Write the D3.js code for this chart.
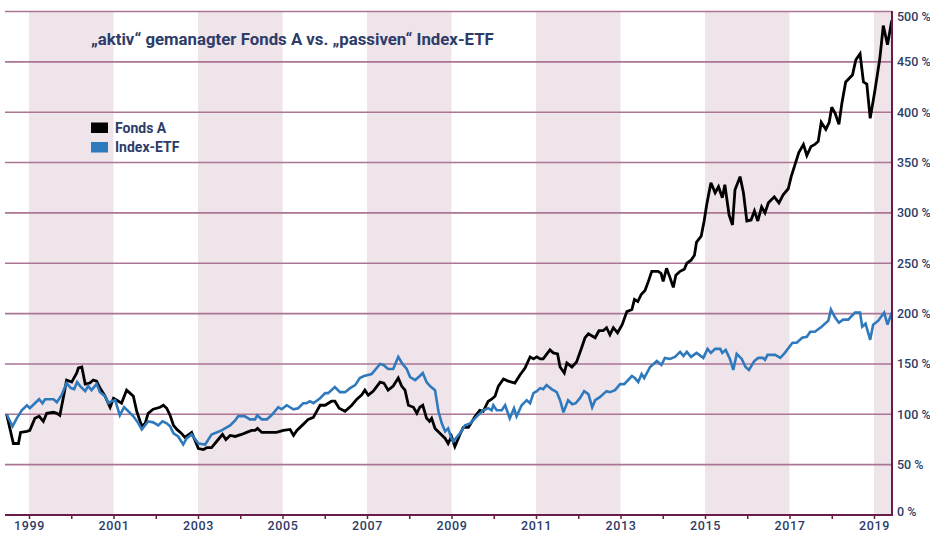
<!DOCTYPE html>
<html>
<head>
<meta charset="utf-8">
<script src="https://cdn.jsdelivr.net/npm/d3@7"></script>
<style>
  html, body { margin: 0; padding: 0; background: #ffffff; }
  svg { display: block; }
  text { font-family: Roboto, "Noto Sans", sans-serif; }
</style>
</head>
<body>
<svg id="chart" width="930" height="533"></svg>
<script>
// ---------- data ----------
const titleText = "\u201Eaktiv\u201C gemanagter Fonds A vs. \u201Epassiven\u201C Index-ETF";
const seriesNames = ["Fonds A", "Index-ETF"];
const seriesColors = ["#000000", "#2f79bd"];

const fondsDates = [1998.47,1998.63,1998.75,1998.80,1998.95,1999.02,1999.14,1999.24,1999.34,1999.42,1999.58,1999.66,1999.73,1999.81,1999.89,2000.01,2000.13,2000.17,2000.25,2000.33,2000.44,2000.52,2000.60,2000.68,2000.80,2000.92,2001.00,2001.08,2001.19,2001.31,2001.39,2001.47,2001.55,2001.67,2001.75,2001.82,2001.94,2002.02,2002.10,2002.18,2002.26,2002.34,2002.42,2002.50,2002.61,2002.69,2002.85,2003.01,2003.13,2003.21,2003.32,2003.44,2003.58,2003.66,2003.76,2003.88,2004.03,2004.15,2004.27,2004.35,2004.41,2004.51,2004.86,2005.02,2005.18,2005.26,2005.34,2005.49,2005.61,2005.73,2005.89,2006.01,2006.16,2006.24,2006.34,2006.48,2006.64,2006.76,2006.87,2006.95,2007.03,2007.15,2007.31,2007.40,2007.50,2007.62,2007.74,2007.82,2007.90,2007.98,2008.10,2008.18,2008.25,2008.32,2008.41,2008.48,2008.53,2008.61,2008.73,2008.85,2008.92,2009.00,2009.08,2009.20,2009.28,2009.40,2009.56,2009.67,2009.75,2009.87,2009.95,2010.03,2010.11,2010.23,2010.34,2010.50,2010.62,2010.74,2010.86,2010.94,2011.02,2011.10,2011.17,2011.33,2011.41,2011.51,2011.57,2011.67,2011.73,2011.85,2011.96,2012.08,2012.16,2012.24,2012.40,2012.49,2012.59,2012.67,2012.75,2012.83,2012.93,2013.04,2013.15,2013.27,2013.33,2013.41,2013.49,2013.58,2013.66,2013.74,2013.89,2013.96,2014.01,2014.09,2014.17,2014.25,2014.31,2014.41,2014.51,2014.57,2014.67,2014.75,2014.80,2014.91,2014.98,2015.04,2015.14,2015.24,2015.32,2015.41,2015.47,2015.57,2015.65,2015.71,2015.83,2015.91,2015.99,2016.09,2016.17,2016.25,2016.34,2016.42,2016.50,2016.64,2016.75,2016.85,2016.97,2017.04,2017.13,2017.22,2017.33,2017.41,2017.51,2017.60,2017.68,2017.75,2017.86,2017.94,2018.00,2018.08,2018.17,2018.24,2018.33,2018.49,2018.57,2018.67,2018.75,2018.83,2018.91,2019.02,2019.14,2019.22,2019.32,2019.42];
const fondsValues = [100,71,71,82,83,84,96,98,93,101,102,101,99,116,134,132,141,146,147,130,131,134,133,126,118,107,116,114,111,124,121,118,103,88,91,101,105,106,107,109,106,99,89,85,81,77,82,66,65,67,67,73,80,75,79,78,80,82,84,84,86,82,82,84,85,79,84,90,95,97,109,109,113,113,106,103,109,115,119,124,119,123,132,131,124,128,136,128,124,109,107,101,107,109,96,93,96,86,81,76,71,78,68,80,87,87,98,104,103,113,115,118,128,135,133,131,139,146,157,155,157,155,155,164,161,160,147,141,151,147,152,166,176,180,176,183,183,186,179,186,181,189,202,204,214,212,219,223,232,242,242,240,232,245,236,226,238,242,244,250,253,258,271,277,292,308,330,320,326,315,328,298,288,323,336,320,292,293,302,292,306,300,310,316,310,318,324,336,348,360,368,357,366,368,371,390,383,390,405,399,388,409,430,437,452,458,430,428,394,421,454,486,467,491];

const etfDates = [1998.47,1998.61,1998.71,1998.83,1998.95,1999.02,1999.14,1999.24,1999.32,1999.38,1999.58,1999.66,1999.77,1999.89,1999.99,2000.07,2000.14,2000.21,2000.33,2000.40,2000.48,2000.60,2000.68,2000.80,2000.88,2000.96,2001.04,2001.15,2001.25,2001.35,2001.47,2001.59,2001.67,2001.82,2001.94,2002.06,2002.16,2002.26,2002.34,2002.42,2002.53,2002.65,2002.73,2002.85,2003.01,2003.17,2003.32,2003.44,2003.56,2003.68,2003.76,2003.88,2003.95,2004.11,2004.23,2004.35,2004.40,2004.51,2004.63,2004.74,2004.90,2004.98,2005.10,2005.26,2005.37,2005.49,2005.57,2005.65,2005.73,2005.89,2006.01,2006.08,2006.24,2006.36,2006.48,2006.60,2006.72,2006.83,2006.93,2007.11,2007.31,2007.39,2007.50,2007.62,2007.74,2007.84,2007.94,2008.02,2008.14,2008.25,2008.32,2008.41,2008.49,2008.61,2008.69,2008.77,2008.85,2008.92,2009.00,2009.04,2009.20,2009.32,2009.44,2009.60,2009.75,2009.87,2009.95,2009.99,2010.07,2010.19,2010.27,2010.38,2010.48,2010.54,2010.66,2010.78,2010.86,2010.94,2011.02,2011.10,2011.17,2011.25,2011.37,2011.49,2011.57,2011.65,2011.76,2011.86,2011.94,2012.04,2012.14,2012.24,2012.33,2012.40,2012.51,2012.67,2012.75,2012.87,2012.99,2013.09,2013.27,2013.34,2013.42,2013.50,2013.56,2013.70,2013.86,2013.97,2014.05,2014.17,2014.29,2014.41,2014.49,2014.57,2014.67,2014.80,2014.96,2015.06,2015.14,2015.24,2015.36,2015.41,2015.49,2015.59,2015.67,2015.75,2015.87,2015.96,2016.04,2016.17,2016.26,2016.37,2016.42,2016.48,2016.66,2016.78,2016.89,2017.07,2017.17,2017.30,2017.41,2017.49,2017.60,2017.76,2017.92,2017.98,2018.08,2018.17,2018.27,2018.39,2018.55,2018.67,2018.72,2018.80,2018.91,2018.98,2019.10,2019.24,2019.32,2019.42];
const etfValues = [100,88,96,104,109,106,111,115,111,115,115,112,119,131,126,125,132,128,123,128,124,130,122,118,111,113,114,99,107,103,98,91,85,93,92,89,93,91,88,81,78,70,76,80,71,70,80,82,84,87,89,94,98,98,95,95,99,95,95,99,107,105,109,105,106,111,111,113,111,116,121,121,127,122,122,126,129,136,138,140,150,149,145,145,157,150,145,137,134,138,141,132,128,124,103,91,83,86,76,73,81,89,91,98,104,106,104,109,104,104,109,96,106,98,109,114,111,121,123,126,125,129,125,122,114,102,114,110,111,116,123,120,107,114,117,123,122,124,130,130,138,136,132,140,136,147,153,149,156,155,157,162,158,162,157,161,156,165,161,165,165,161,164,155,144,160,155,147,144,153,156,156,154,159,159,156,161,171,171,176,177,182,182,187,193,204,196,191,194,194,201,201,187,190,174,189,193,201,189,201];

const yearTicks = d3.range(1999, 2020);            // 1999 … 2019
const yTickValues = [0, 50, 100, 150, 200, 250, 300, 350, 400, 450, 500];
const bandStarts = [1999, 2003, 2007, 2011, 2015, 2019];

// ---------- layout ----------
const svg = d3.select("#chart");
const plotLeft = 5, plotRight = 892, plotTop = 11.5, plotBottom = 515;
const navy = "#2d3c68";
const maroon = "#6a1c48";

const x = d3.scaleLinear().domain([1999, 2019]).range([29, 874]);
const y = d3.scaleLinear().domain([0, 500]).range([plotBottom, plotTop]);

// shaded bands
svg.append("g").selectAll("rect")
  .data(bandStarts)
  .join("rect")
  .attr("x", d => x(d))
  .attr("y", plotTop)
  .attr("width", d => Math.min(x(d + 2), plotRight) - x(d))
  .attr("height", plotBottom - plotTop)
  .attr("fill", "#f0e4eb");

// gridlines
svg.append("g").selectAll("line")
  .data(yTickValues.filter(v => v > 0))
  .join("line")
  .attr("x1", plotLeft).attr("x2", plotRight)
  .attr("y1", d => y(d)).attr("y2", d => y(d))
  .attr("stroke", "#ab7594")
  .attr("stroke-width", 1.6);

// lines
const line = d3.line().x(d => x(d[0])).y(d => y(d[1]));
const fondsData = fondsDates.map((d, i) => [d, fondsValues[i]]);
const etfData = etfDates.map((d, i) => [d, etfValues[i]]);

svg.append("path").datum(fondsData)
  .attr("d", line).attr("fill", "none")
  .attr("stroke", seriesColors[0]).attr("stroke-width", 2.8)
  .attr("stroke-linejoin", "miter").attr("stroke-miterlimit", 3);

svg.append("path").datum(etfData)
  .attr("d", line).attr("fill", "none")
  .attr("stroke", seriesColors[1]).attr("stroke-width", 2.6)
  .attr("stroke-linejoin", "miter").attr("stroke-miterlimit", 3);

// bottom axis
const xAxis = d3.axisBottom(x)
  .tickValues(yearTicks)
  .tickSize(4)
  .tickPadding(2)
  .tickFormat(d => (d % 2 === 1 ? String(d) : ""));
const gx = svg.append("g").attr("transform", `translate(0,${plotBottom})`).call(xAxis);
gx.select(".domain").remove();
gx.selectAll(".tick line").attr("stroke", maroon).attr("stroke-width", 1.5);
gx.selectAll(".tick text")
  .attr("fill", navy).attr("font-size", 12.5).attr("font-weight", 500)
  .attr("letter-spacing", "0.6px")
  .attr("font-family", "Roboto, sans-serif");
svg.append("line")
  .attr("x1", plotLeft).attr("x2", plotRight + 1)
  .attr("y1", plotBottom).attr("y2", plotBottom)
  .attr("stroke", maroon).attr("stroke-width", 2);

// right axis
const yAxis = d3.axisRight(y)
  .tickValues(yTickValues)
  .tickSize(0)
  .tickPadding(5)
  .tickFormat(d => d + " %");
const gy = svg.append("g").attr("transform", `translate(${plotRight},0)`).call(yAxis);
gy.select(".domain").remove();
gy.selectAll(".tick text")
  .attr("fill", navy).attr("font-size", 12.5).attr("font-weight", 500)
  .attr("font-family", "Roboto, sans-serif")
  .attr("dy", d => d === 500 ? "0.75em" : (d === 0 ? "0.05em" : "0.32em"));
svg.append("line")
  .attr("x1", plotRight).attr("x2", plotRight)
  .attr("y1", plotTop - 0.5).attr("y2", plotBottom + 1)
  .attr("stroke", maroon).attr("stroke-width", 2);

// title
const title = svg.append("text")
  .attr("x", 91).attr("y", 45)
  .attr("fill", navy).attr("font-weight", 700).attr("font-size", 15)
  .attr("font-family", "Roboto, sans-serif")
  .text(titleText);
const tw = title.node().getComputedTextLength();
title.attr("font-size", 15 * 403 / tw);

// legend
const legend = svg.append("g");
seriesNames.forEach((name, i) => {
  const yy = 122.5 + i * 19.5;
  legend.append("rect").attr("x", 91).attr("y", yy).attr("width", 17).attr("height", 10.5)
    .attr("fill", seriesColors[i]);
  legend.append("text").attr("x", 115).attr("y", yy + 10)
    .attr("fill", navy).attr("font-weight", 700).attr("font-size", 14)
    .attr("font-family", "Roboto, sans-serif")
    .text(name);
});
</script>
</body>
</html>
